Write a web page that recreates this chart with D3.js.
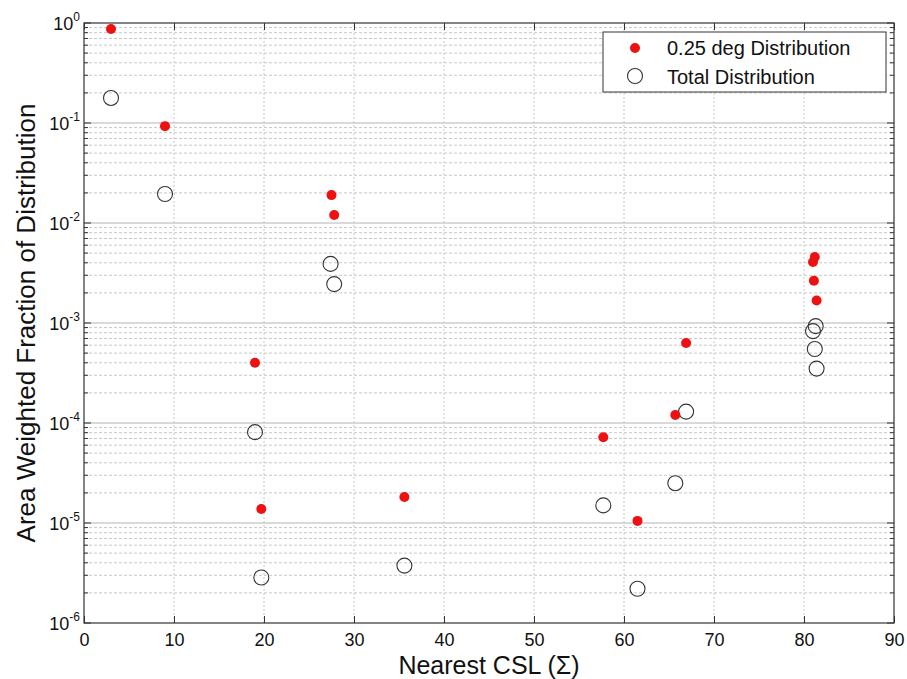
<!DOCTYPE html>
<html>
<head>
<meta charset="utf-8">
<script src="https://cdn.jsdelivr.net/npm/d3@7"></script>
<style>
  body { margin: 0; background: #fff; }
  svg { font-family: "Liberation Sans", Arial, sans-serif; }
</style>
</head>
<body>
<svg id="chart"></svg>
<script>
const width = 907;
const height = 679;

// Nearest CSL (Sigma) values
const cslRed = [3.0, 9.0, 27.5, 27.8, 19.0, 19.7, 35.6, 57.7, 61.5, 65.7, 66.9, 81.0, 81.2, 81.1, 81.4];
const fracRed = [0.87, 0.093, 0.019, 0.012, 4.0e-4, 1.38e-5, 1.82e-5, 7.2e-5, 1.05e-5, 1.2e-4, 6.3e-4, 4.07e-3, 4.57e-3, 2.65e-3, 1.68e-3];

const cslTotal = [3.0, 9.0, 27.4, 27.8, 19.0, 19.7, 35.6, 57.7, 61.5, 65.7, 66.9, 81.3, 81.0, 81.2, 81.4];
const fracTotal = [0.178, 0.0195, 3.9e-3, 2.45e-3, 8.1e-5, 2.85e-6, 3.75e-6, 1.5e-5, 2.2e-6, 2.5e-5, 1.3e-4, 9.3e-4, 8.3e-4, 5.5e-4, 3.5e-4];

const xTicks = [0, 10, 20, 30, 40, 50, 60, 70, 80, 90];
const yExps = [0, -1, -2, -3, -4, -5, -6];
const legendLabels = ["0.25 deg Distribution", "Total Distribution"];

const margin = {top: 23, right: 13, bottom: 56, left: 84};
const x0 = margin.left, x1 = width - margin.right;
const y0 = height - margin.bottom, y1 = margin.top;

const svg = d3.select("#chart")
  .attr("width", width)
  .attr("height", height);

const x = d3.scaleLinear().domain([0, 90]).range([x0, x1]);
const y = d3.scaleLog().domain([1e-6, 1]).range([y0, y1]);

// minor values
const minor = [];
for (let e = -6; e < 0; e++) {
  for (let m = 2; m <= 9; m++) minor.push(m * Math.pow(10, e));
}

// grid
const grid = svg.append("g");
grid.selectAll(".ymin").data(minor).enter().append("line")
  .attr("x1", x0).attr("x2", x1)
  .attr("y1", d => y(d)).attr("y2", d => y(d))
  .attr("stroke", "#c8c8c8").attr("stroke-width", 1)
  .attr("stroke-dasharray", "3,2");
grid.selectAll(".ymaj").data(yExps.slice(1, -1)).enter().append("line")
  .attr("x1", x0).attr("x2", x1)
  .attr("y1", d => y(Math.pow(10, d))).attr("y2", d => y(Math.pow(10, d)))
  .attr("stroke", "#b4b4b4").attr("stroke-width", 1);
grid.selectAll(".xg").data(xTicks.slice(1, -1)).enter().append("line")
  .attr("x1", d => x(d)).attr("x2", d => x(d))
  .attr("y1", y0).attr("y2", y1)
  .attr("stroke", "#c8c8c8").attr("stroke-width", 1)
  .attr("stroke-dasharray", "2,2");

// frame
svg.append("rect")
  .attr("x", x0).attr("y", y1)
  .attr("width", x1 - x0).attr("height", y0 - y1)
  .attr("fill", "none").attr("stroke", "#333").attr("stroke-width", 1.2);

// axes
const xAxisB = d3.axisBottom(x).tickValues(xTicks).tickSize(-7).tickPadding(10);
const gx = svg.append("g").attr("transform", `translate(0,${y0})`).call(xAxisB);
gx.select(".domain").remove();
gx.selectAll(".tick line").attr("stroke", "#333");
gx.selectAll("text").attr("font-size", 18).attr("fill", "#111")
  .attr("font-family", "Liberation Sans, Arial, sans-serif");

const gxt = svg.append("g").attr("transform", `translate(0,${y1})`)
  .call(d3.axisTop(x).tickValues(xTicks).tickSize(-7).tickFormat(""));
gxt.select(".domain").remove();
gxt.selectAll(".tick line").attr("stroke", "#333");

// y ticks: majors and minors on both sides
[[x0, 1], [x1, -1]].forEach(([xp, dir]) => {
  svg.append("g").selectAll("line").data(minor).enter().append("line")
    .attr("x1", xp).attr("x2", xp + dir * 4)
    .attr("y1", d => y(d)).attr("y2", d => y(d))
    .attr("stroke", "#333");
  svg.append("g").selectAll("line").data(yExps).enter().append("line")
    .attr("x1", xp).attr("x2", xp + dir * 7)
    .attr("y1", d => y(Math.pow(10, d))).attr("y2", d => y(Math.pow(10, d)))
    .attr("stroke", "#333");
});

const ylab = svg.append("g").selectAll("text").data(yExps).enter().append("text")
  .attr("x", x0 - 4)
  .attr("y", d => y(Math.pow(10, d)) + 7)
  .attr("text-anchor", "end")
  .attr("font-size", 18)
  .attr("fill", "#111");
ylab.append("tspan").text("10");
ylab.append("tspan")
  .attr("font-size", 12)
  .attr("dy", -9)
  .text(d => d);

// axis titles
svg.append("text")
  .attr("x", (x0 + x1) / 2).attr("y", 674)
  .attr("text-anchor", "middle")
  .attr("font-size", 25).attr("fill", "#111")
  .text("Nearest CSL (Σ)");

svg.append("text")
  .attr("transform", `translate(35,${(y0 + y1) / 2}) rotate(-90)`)
  .attr("text-anchor", "middle")
  .attr("font-size", 26).attr("fill", "#111")
  .text("Area Weighted Fraction of Distribution");

// points
const total = cslTotal.map((c, i) => ({c, v: fracTotal[i]}));
const red = cslRed.map((c, i) => ({c, v: fracRed[i]}));

svg.append("g").selectAll("circle").data(total).enter().append("circle")
  .attr("cx", d => x(d.c)).attr("cy", d => y(d.v))
  .attr("r", 7.5)
  .attr("fill", "none").attr("stroke", "#333").attr("stroke-width", 1.1);

svg.append("g").selectAll("circle").data(red).enter().append("circle")
  .attr("cx", d => x(d.c)).attr("cy", d => y(d.v))
  .attr("r", 5)
  .attr("fill", "#ee1111");

// legend
const lg = svg.append("g").attr("transform", "translate(603,32)");
lg.append("rect").attr("width", 283).attr("height", 60)
  .attr("fill", "#fff").attr("stroke", "#333").attr("stroke-width", 1);
lg.append("circle").attr("cx", 32).attr("cy", 16).attr("r", 5).attr("fill", "#ee1111");
lg.append("circle").attr("cx", 32).attr("cy", 44).attr("r", 7.5)
  .attr("fill", "none").attr("stroke", "#333").attr("stroke-width", 1.1);
lg.selectAll("text").data(legendLabels).enter().append("text")
  .attr("x", 64).attr("y", (d, i) => 23 + i * 29)
  .attr("font-size", 20).attr("fill", "#111")
  .text(d => d);
</script>
</body>
</html>
